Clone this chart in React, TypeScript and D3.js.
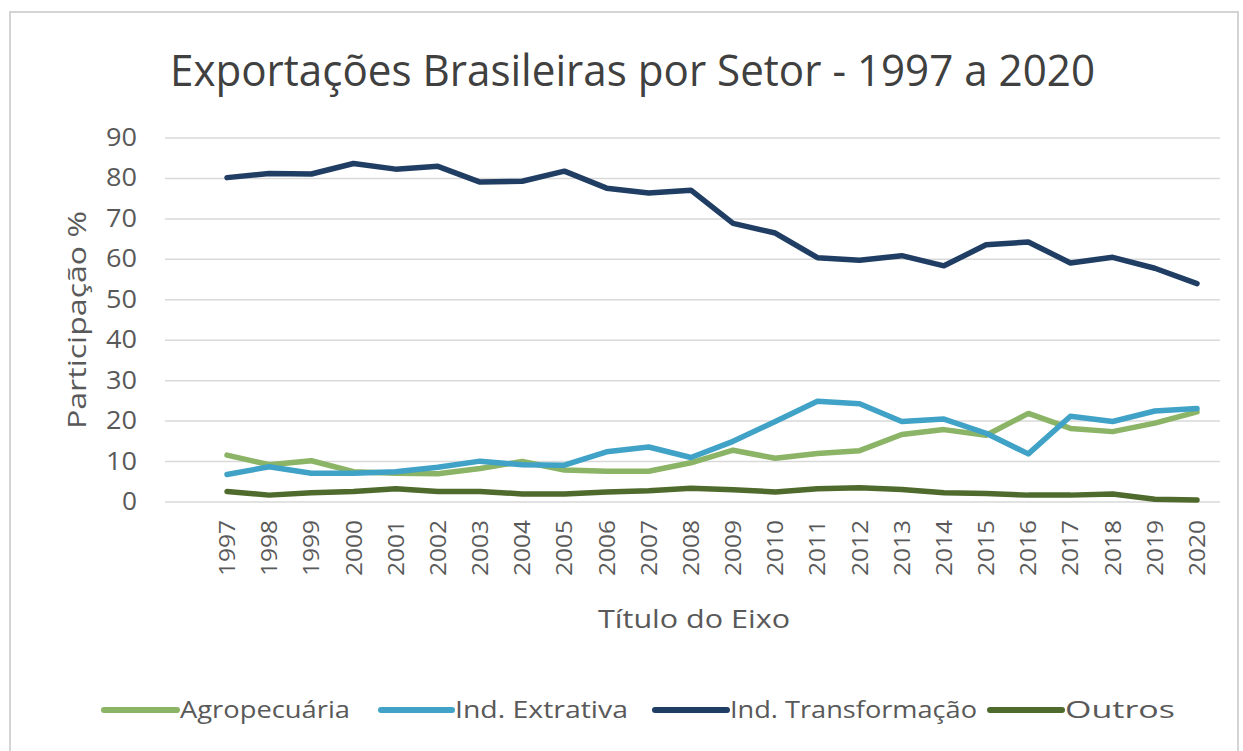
import React from "react";
import * as d3 from "d3";

const years = [
  "1997", "1998", "1999", "2000", "2001", "2002", "2003", "2004", "2005", "2006", "2007", "2008",
  "2009", "2010", "2011", "2012", "2013", "2014", "2015", "2016", "2017", "2018", "2019", "2020",
];
const agropecuaria = [11.6, 9.2, 10.2, 7.5, 7.1, 7.0, 8.3, 10.0, 7.9, 7.6, 7.6, 9.7, 12.8, 10.8, 12.0, 12.7, 16.7, 17.9, 16.5, 21.9, 18.2, 17.4, 19.5, 22.3];
const extrativa = [6.8, 8.7, 7.1, 7.1, 7.5, 8.6, 10.1, 9.2, 9.1, 12.4, 13.6, 11.0, 15.0, 19.9, 24.9, 24.3, 19.9, 20.5, 17.0, 11.9, 21.2, 19.9, 22.5, 23.1];
const transformacao = [80.2, 81.2, 81.1, 83.7, 82.3, 83.0, 79.1, 79.3, 81.8, 77.6, 76.4, 77.1, 68.9, 66.5, 60.4, 59.8, 60.9, 58.4, 63.6, 64.3, 59.1, 60.5, 57.8, 54.0];
const outros = [2.6, 1.7, 2.3, 2.6, 3.3, 2.6, 2.6, 2.0, 2.0, 2.5, 2.8, 3.4, 3.0, 2.5, 3.3, 3.5, 3.1, 2.3, 2.1, 1.7, 1.7, 2.0, 0.7, 0.5];
const yTicks = [0, 10, 20, 30, 40, 50, 60, 70, 80, 90];

const seriesNames = ["Agropecuária", "Ind. Extrativa", "Ind. Transformação", "Outros"];
const seriesValues = [agropecuaria, extrativa, transformacao, outros];
const seriesColors = ["#8bb466", "#3fa2c6", "#203e63", "#4e6a2c"];

const title = "Exportações Brasileiras por Setor - 1997 a 2020";
const yTitle = "Participação %";
const xTitle = "Título do Eixo";

const W = 1243;
const H = 751;
const gridLeft = 165;
const gridRight = 1220;
const FONT = "'Liberation Sans Narrow', 'Open Sans', sans-serif";
const TEXT = "#595959";

export default function App() {
  const x = d3.scalePoint<string>().domain(years).range([227, 1197]);
  const y = d3.scaleLinear().domain([0, 90]).range([502, 138]);
  const line = d3
    .line<number>()
    .x((_, i) => x(years[i]) as number)
    .y((d) => y(d));

  const legendLines = [
    [104, 177, 180, 170],
    [381, 452, 455, 173],
    [655, 727, 730, 247],
    [990, 1062, 1065, 110],
  ];

  return (
    <svg
      width={W}
      height={H}
      style={{ position: "absolute", left: 0, top: 0, background: "#fff" }}
    >
      <rect x={10} y={12} width={1228} height={760} fill="#fff" stroke="#d4d4d4" strokeWidth={2} />
      <text
        x={170}
        y={86}
        fontFamily={FONT}
        fontSize={44}
        fill="#404040"
        textLength={925}
        lengthAdjust="spacingAndGlyphs"
      >
        {title}
      </text>

      {yTicks.map((t) => (
        <g key={t}>
          <line x1={gridLeft} x2={gridRight} y1={y(t)} y2={y(t)} stroke="#d9d9d9" strokeWidth={1.5} />
          <text
            x={137}
            y={y(t) + 8}
            textAnchor="end"
            fontFamily={FONT}
            fontSize={26}
            fill={TEXT}
            textLength={t === 0 ? 15 : 31}
            lengthAdjust="spacingAndGlyphs"
          >
            {t}
          </text>
        </g>
      ))}

      <text
        transform={`translate(86,${y(45)}) rotate(-90)`}
        textAnchor="middle"
        fontFamily={FONT}
        fontSize={25}
        fill={TEXT}
        textLength={218}
        lengthAdjust="spacingAndGlyphs"
      >
        {yTitle}
      </text>

      {years.map((yr) => (
        <text
          key={yr}
          transform={`translate(${(x(yr) as number) + 8},520) rotate(-90)`}
          textAnchor="end"
          fontFamily={FONT}
          fontSize={21}
          fill={TEXT}
          textLength={56}
          lengthAdjust="spacingAndGlyphs"
        >
          {yr}
        </text>
      ))}

      <text
        x={694}
        y={628}
        textAnchor="middle"
        fontFamily={FONT}
        fontSize={25}
        fill={TEXT}
        textLength={192}
        lengthAdjust="spacingAndGlyphs"
      >
        {xTitle}
      </text>

      {seriesValues.map((vals, i) => (
        <path
          key={seriesNames[i]}
          d={line(vals) as string}
          fill="none"
          stroke={seriesColors[i]}
          strokeWidth={5.5}
          strokeLinejoin="round"
          strokeLinecap="round"
        />
      ))}

      {seriesNames.map((name, i) => {
        const [l1, l2, tx, tl] = legendLines[i];
        return (
          <g key={name}>
            <line x1={l1} x2={l2} y1={710} y2={710} stroke={seriesColors[i]} strokeWidth={6} strokeLinecap="round" />
            <text
              x={tx}
              y={718}
              fontFamily={FONT}
              fontSize={23}
              fill={TEXT}
              textLength={tl}
              lengthAdjust="spacingAndGlyphs"
            >
              {name}
            </text>
          </g>
        );
      })}
    </svg>
  );
}
